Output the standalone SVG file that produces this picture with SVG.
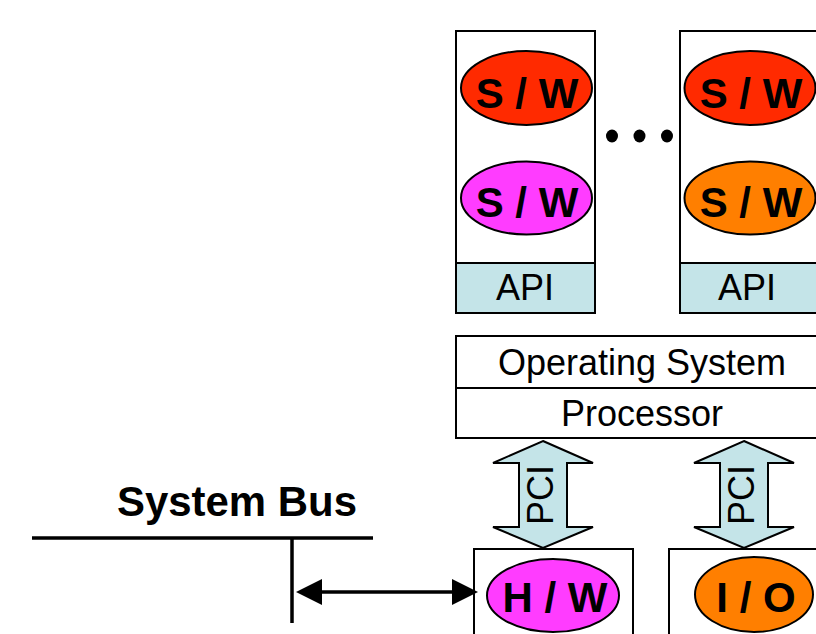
<svg xmlns="http://www.w3.org/2000/svg" width="816" height="634" viewBox="0 0 816 634">
  <style>
    .box { fill: #ffffff; stroke: #000; stroke-width: 2; }
    .api { fill: #c4e4e8; stroke: #000; stroke-width: 2; }
    .ell { stroke: #000; stroke-width: 2; }
    .red { fill: #ff2a00; }
    .mag { fill: #ff3cff; }
    .org { fill: #ff7f00; }
    .bold { font-family: "Liberation Sans", Arial, sans-serif; font-weight: bold; font-size: 42px; text-anchor: middle; fill: #000; }
    .reg { font-family: "Liberation Sans", Arial, sans-serif; font-size: 36px; text-anchor: middle; fill: #000; }
    .pci { fill: #c4e4e8; stroke: #000; stroke-width: 2; stroke-linejoin: miter; }
    .line { stroke: #000; stroke-width: 3.5; fill: none; }
  </style>
  <rect width="816" height="634" fill="#ffffff"/>

  <g id="app1">
    <rect class="box" x="456" y="31" width="139" height="282"/>
    <rect class="api" x="456" y="263" width="139" height="50"/>
    <text class="reg" x="525" y="300" font-size="36">API</text>
    <ellipse class="ell red" cx="526.5" cy="88" rx="65.5" ry="37"/>
    <text class="bold" x="527" y="108">S / W</text>
    <ellipse class="ell mag" cx="526.5" cy="198" rx="65.5" ry="36.5"/>
    <text class="bold" x="527" y="217">S / W</text>
  </g>

  <g id="dots">
    <ellipse cx="612" cy="136" rx="6" ry="6.5" fill="#000"/>
    <ellipse cx="639.5" cy="136" rx="6" ry="6.5" fill="#000"/>
    <ellipse cx="667" cy="136" rx="6" ry="6.5" fill="#000"/>
  </g>

  <g id="app2">
    <rect class="box" x="680" y="31" width="139" height="282"/>
    <rect class="api" x="680" y="263" width="139" height="50"/>
    <text class="reg" x="747" y="300" font-size="36">API</text>
    <ellipse class="ell red" cx="750" cy="88" rx="65.5" ry="37"/>
    <text class="bold" x="751" y="108">S / W</text>
    <ellipse class="ell org" cx="750" cy="198" rx="65.5" ry="36.5"/>
    <text class="bold" x="751" y="217">S / W</text>
  </g>

  <g id="os">
    <rect class="box" x="456" y="336" width="372" height="102"/>
    <line x1="456" y1="388" x2="828" y2="388" stroke="#000" stroke-width="2"/>
    <text class="reg" x="642" y="375" font-size="38">Operating System</text>
    <text class="reg" x="642" y="426" font-size="38">Processor</text>
  </g>

  <g id="hw">
    <rect class="box" x="474" y="549" width="159" height="100"/>
    <ellipse class="ell mag" cx="553" cy="595.5" rx="66" ry="36.5"/>
    <text class="bold" x="555" y="612">H / W</text>
  </g>

  <g id="io">
    <rect class="box" x="669" y="549" width="170" height="100"/>
    <ellipse class="ell org" cx="754" cy="594.5" rx="59" ry="37.5"/>
    <text class="bold" x="756" y="612" font-size="44">I / O</text>
  </g>

  <g id="sysbus">
    <text class="bold" x="237" y="516" font-size="35" textLength="240" lengthAdjust="spacingAndGlyphs">System Bus</text>
    <line class="line" x1="32" y1="538" x2="373" y2="538"/>
    <line class="line" x1="292" y1="538" x2="292" y2="623"/>
  </g>

  <g id="connectors">
    <path class="pci" d="M543,441 L593,463 L567,463 L567,527 L593,527 L543,548 L493,527 L519,527 L519,463 L493,463 Z"/>
    <text class="reg" font-size="34" transform="translate(553,495) rotate(-90)" x="0" y="0">PCI</text>
    <path class="pci" d="M744,441 L794,463 L768,463 L768,527 L794,527 L744,548 L694,527 L720,527 L720,463 L694,463 Z"/>
    <text class="reg" font-size="34" transform="translate(754,495) rotate(-90)" x="0" y="0">PCI</text>
    <line class="line" x1="320" y1="592" x2="454" y2="592"/>
    <polygon points="296,592 322,579 322,605" fill="#000"/>
    <polygon points="478,592 452,579 452,605" fill="#000"/>
  </g>
</svg>
